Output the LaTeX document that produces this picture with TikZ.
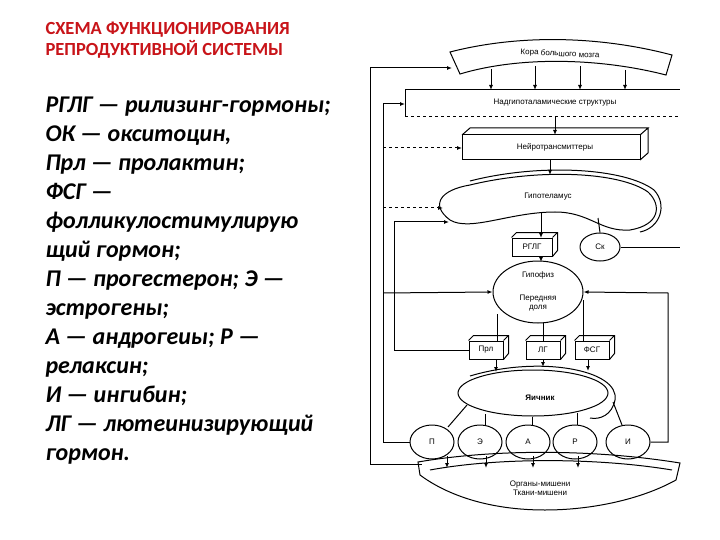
\documentclass[tikz,border=0pt]{standalone}
\usepackage{fontspec}
\setmainfont{Carlito}
\newfontfamily\dsf{Liberation Sans}
\usetikzlibrary{arrows.meta,shapes.geometric}
\definecolor{titred}{RGB}{200,20,25}
\begin{document}
\begin{tikzpicture}[x=1pt,y=-1pt,line width=1pt,
  lab/.style={font=\dsf\fontsize{8}{9}\selectfont,inner sep=0pt},
  arr/.style={-{Latex[length=5pt,width=4pt]}},
  cube/.style={draw,fill=white,minimum width=34pt,minimum height=18pt,inner sep=1pt,font=\dsf\fontsize{8}{9}\selectfont},
  oval/.style={draw,ellipse,fill=white,font=\dsf\fontsize{8}{9}\selectfont,inner sep=0pt}]
\useasboundingbox (0,0) rectangle (720,540);
% left text
\node[anchor=north west,align=left,inner sep=0pt,text=titred,font=\bfseries\fontsize{18.5}{21}\selectfont] (title) at (45,22) {СХЕМА ФУНКЦИОНИРОВАНИЯ\\РЕПРОДУКТИВНОЙ СИСТЕМЫ};
\node[anchor=north west,align=left,inner sep=0pt,font=\bfseries\itshape\fontsize{24}{29}\selectfont] (legend) at (45,96) {РГЛГ — рилизинг-гормоны;\\ОК — окситоцин,\\Прл — пролактин;\\ФСГ —\\фолликулостимулирую\\щий гормон;\\П — прогестерон; Э —\\эстрогены;\\А — андрогеиы; Р —\\релаксин;\\И — ингибин;\\ЛГ — лютеинизирующий\\гормон.};
% cortex
\draw (450,52) .. controls (520,34) and (600,36) .. (672,55) -- (666,75) .. controls (600,58) and (520,56) .. (460,74) -- cycle;
\node[lab,rotate=-3] (cortex) at (560,54) {Кора большого мозга};
% supra-hypothalamic
\draw (405,90) -- (680,90);
\draw[dashed] (405,117) -- (680,117);
\draw (405,90) -- (405,117);
\node[lab] (supra) at (555,103) {Надгипоталамические структуры};
\foreach \x/\y in {491/69,535/66,580/66,625/70} \draw[arr] (\x,\y) -- (\x,90);
% neurotransmitters
\draw[fill=white] (462,135) rectangle (640,160);
\draw (462,135) -- (470,128) -- (648,128) -- (640,135) (648,128) -- (648,153) -- (640,160);
\node[lab] (neuro) at (555,147) {Нейротрансмиттеры};
\draw[arr] (555,117) -- (555,135);
% hypothalamus
\draw (450,220) .. controls (430,205) and (440,190) .. (470,185) .. controls (540,168) and (620,172) .. (648,192)
 .. controls (662,205) and (660,225) .. (630,230) .. controls (600,232) and (590,212) .. (555,212) .. controls (510,212) and (470,232) .. (450,220) -- cycle;
\draw (470,181) .. controls (540,163) and (625,168) .. (654,190) .. controls (668,205) and (660,228) .. (640,232);
\node[lab] (hypo) at (548,197) {Гипотеламус};
\draw[arr] (550,160) -- (550,175);
% RGLG and Sk
\node[cube,minimum width=40pt] (rglg) at (532,247) {РГЛГ};
\draw (rglg.north west) -- ++(5,-5) -- ([shift={(5,-5)}]rglg.north east) -- ++(0,18) -- (rglg.south east) (rglg.north east) -- ++(5,-5);
\node[oval,minimum width=40pt,minimum height=28pt] (sk) at (600,247) {Ск};
\draw[arr] (541,212) -- (541,238);
\draw (598,218) -- (sk.north);
\draw (sk.east) -- (680,247);
% hypophysis
\node[oval,minimum width=90pt,minimum height=62pt] (hyp) at (538,292) {};
\node[lab] (hyp1) at (538,275) {Гипофиз};
\node[lab,align=center] (hyp2) at (538,303) {Передняя\\доля};
\draw[arr] (541,256) -- (541,262);
% hormone boxes
\foreach \n/\t/\x in {prl/Прл/486,lg/ЛГ/543,fsg/ФСГ/592}{
  \node[cube] (\n) at (\x,350) {\t};
  \draw (\n.north west) -- ++(5,-5) -- ([shift={(5,-5)}]\n.north east) -- ++(0,18) -- (\n.south east) (\n.north east) -- ++(5,-5);
}
\draw (497,314) -- (497,341);
\draw (543,323) -- (543,341);
\draw (583,300) -- (583,341);
% ovary
\draw (470,376) .. controls (540,355) and (620,370) .. (615,400) .. controls (612,415) and (600,420) .. (590,418);
\node[oval,minimum width=150pt,minimum height=46pt] (ov) at (533,393) {};
\node[lab,font=\dsf\bfseries\fontsize{8}{9}\selectfont] (ovl) at (540,398) {Яичник};
\draw[arr] (496,359) -- (496,372);
\draw[arr] (543,359) -- (543,367);
\draw[arr] (588,359) -- (588,371);
% steroid circles
\foreach \n/\t/\x in {cp/П/432,ce/Э/480,ca/А/528,cr/Р/575,ci/И/628}
  \node[oval,minimum width=44pt,minimum height=34pt] (\n) at (\x,442) {\t};
\draw (467,405) -- (448,427);
\draw (485,414) -- (485,425);
\draw (532,417) -- (532,425);
\draw (577,413) -- (577,425);
\draw (613,402) -- (622,425);
% target organs
\draw (418,462) .. controls (500,448) and (600,450) .. (680,463) -- (676,480) .. controls (640,500) and (590,510) .. (545,510) .. controls (480,510) and (440,490) .. (420,475) -- cycle;
\draw (430,470) .. controls (500,457) and (600,458) .. (672,470);
\node[lab,align=center] (org) at (540,488) {Органы-мишени\\Ткани-мишени};
\foreach \x in {447,486,533,578} \draw[arr] (\x,456) -- (\x,468);
% feedback lines
\draw[arr] (370,464) -- (370,68) -- (452,68);
\draw (370,464) -- (422,464);
\draw[arr] (cp.west) -- (383,442) -- (383,104) -- (405,104);
\draw[arr] (383,293) -- (hyp.west);
\draw[dashed,arr] (383,148) -- (462,148);
\draw[dashed,arr] (383,208) -- (443,208);
\draw[arr] (prl.west) -- (394,350) -- (394,222) -- (449,222);
\draw[arr] (ci.east) -- (668,442) -- (668,293) -- (hyp.east);
\end{tikzpicture}
\end{document}
